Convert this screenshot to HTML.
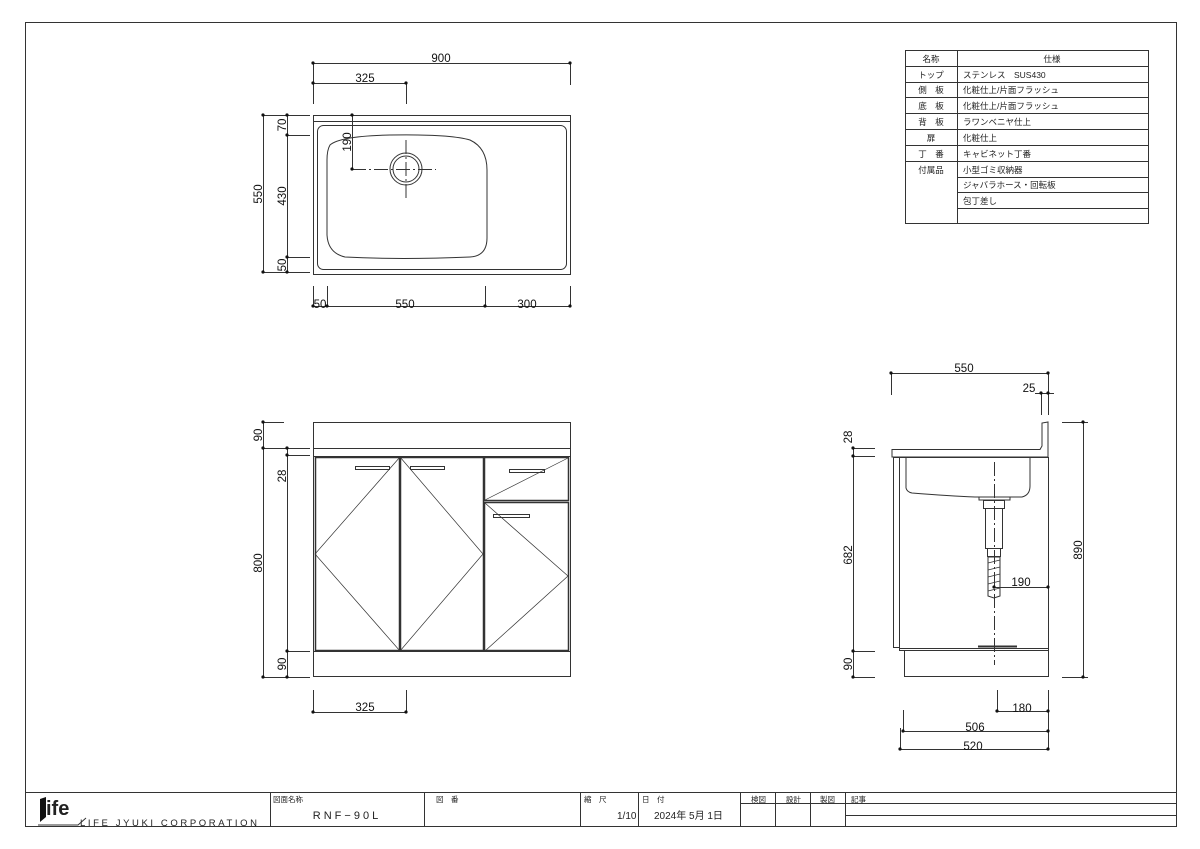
<!DOCTYPE html>
<html><head><meta charset="utf-8"><style>
body{margin:0;background:#fff;}
svg{display:block;font-family:"Liberation Sans","Noto Sans CJK JP",sans-serif;}
</style></head><body>
<svg width="1200" height="849" viewBox="0 0 1200 849" xmlns="http://www.w3.org/2000/svg">
<g fill="none" stroke="#333" stroke-width="1">
<rect x="25.5" y="22.5" width="1151" height="804"/>
<!-- TOP VIEW -->
<rect x="313.5" y="115.5" width="257" height="159"/>
<line x1="313" y1="121.5" x2="570" y2="121.5"/>
<rect x="317.5" y="125.5" width="249" height="144" rx="6"/>
<path d="M330,145 Q340,136 390,135 Q450,134 470,140 Q487,148 487,170 L487,238 Q487,256 470,257 Q400,260 345,257 Q328,253 327,235 L327,160 Q327,150 330,145 Z"/>
<circle cx="406" cy="169" r="16"/><circle cx="406" cy="169" r="13"/>
<line x1="406" y1="140" x2="406" y2="198" stroke-dasharray="14,3,2,3"/>
<line x1="352" y1="169.5" x2="436" y2="169.5" stroke-dasharray="14,3,2,3"/>
<line x1="313" y1="63.5" x2="570" y2="63.5"/><line x1="313.5" y1="63" x2="313.5" y2="104"/><line x1="570.5" y1="63" x2="570.5" y2="85"/>
<line x1="313" y1="83.5" x2="406" y2="83.5"/><line x1="406.5" y1="83" x2="406.5" y2="104"/>
<line x1="352.5" y1="115" x2="352.5" y2="169"/><line x1="352" y1="115.5" x2="374" y2="115.5"/>
<line x1="263.5" y1="115" x2="263.5" y2="272"/><line x1="263" y1="115.5" x2="310" y2="115.5"/><line x1="263" y1="272.5" x2="310" y2="272.5"/>
<line x1="287.5" y1="115" x2="287.5" y2="272"/><line x1="287" y1="135.5" x2="310" y2="135.5"/><line x1="287" y1="257.5" x2="310" y2="257.5"/>
<line x1="313" y1="306.5" x2="570" y2="306.5"/>
<line x1="313.5" y1="286" x2="313.5" y2="306"/><line x1="327.5" y1="286" x2="327.5" y2="306"/><line x1="485.5" y1="286" x2="485.5" y2="306"/><line x1="570.5" y1="286" x2="570.5" y2="306"/>
<!-- FRONT VIEW -->
<rect x="313.5" y="422.5" width="257" height="254"/>
<line x1="313" y1="448.5" x2="570" y2="448.5"/><line x1="313" y1="456.5" x2="570" y2="456.5"/>
<rect x="315.5" y="457.5" width="84" height="193" stroke-width="1.5"/>
<rect x="400.5" y="457.5" width="83" height="193" stroke-width="1.5"/>
<rect x="484.5" y="457.5" width="84" height="43" stroke-width="1.5"/>
<rect x="484.5" y="502.5" width="84" height="148" stroke-width="1.5"/>
<line x1="313" y1="651.5" x2="570" y2="651.5"/>
<g stroke-width="0.7"><path d="M400,457 L315,554 L400,651"/><path d="M400,457 L483,554 L400,651"/><path d="M568,458 L485,500"/><path d="M485,503 L568,576 L485,651"/></g>
<rect x="355.5" y="466.5" width="34" height="3"/><rect x="410.5" y="466.5" width="34" height="3"/><rect x="509.5" y="469.5" width="35" height="3"/><rect x="493.5" y="514.5" width="36" height="3"/>
<line x1="263.5" y1="422" x2="263.5" y2="677"/><line x1="263" y1="422.5" x2="284" y2="422.5"/><line x1="263" y1="448.5" x2="310" y2="448.5"/><line x1="263" y1="677.5" x2="310" y2="677.5"/>
<line x1="287.5" y1="448" x2="287.5" y2="677"/><line x1="287" y1="455.5" x2="310" y2="455.5"/><line x1="287" y1="651.5" x2="310" y2="651.5"/>
<line x1="313" y1="712.5" x2="406" y2="712.5"/><line x1="313.5" y1="690" x2="313.5" y2="712"/><line x1="406.5" y1="690" x2="406.5" y2="712"/>
<!-- SIDE VIEW -->
<line x1="891" y1="373.5" x2="1048" y2="373.5"/><line x1="891.5" y1="373" x2="891.5" y2="395"/><line x1="1048.5" y1="373" x2="1048.5" y2="415"/>
<line x1="1035" y1="393.5" x2="1054" y2="393.5"/><line x1="1041.5" y1="393" x2="1041.5" y2="415"/>
<path d="M892,449.5 L1040,449.5 L1042,446 L1042,423 L1048,422 L1048,457 L892,457 Z"/>
<rect x="893.5" y="457.5" width="6" height="190"/>
<rect x="899.5" y="457.5" width="149" height="193"/>
<line x1="899" y1="648.5" x2="1048" y2="648.5"/>
<rect x="904.5" y="650.5" width="144" height="26"/>
<path d="M906,457 L906,488 Q907,492 912,493 Q950,496 975,497 L1022,497 Q1030,495 1030,486 L1030,457"/>
<path d="M979,497 L1010,497 L1010,500 L979,500 Z"/><rect x="983.5" y="500.5" width="21" height="8"/><rect x="985.5" y="508.5" width="17" height="40"/><rect x="987.5" y="548.5" width="13" height="8"/>
<path d="M988,557 L1000,557 L1000,596 L994,598 L988,596 Z"/>
<g stroke-width="0.8"><path d="M988,563 L1000,560 M988,570 L1000,567 M988,577 L1000,574 M988,584 L1000,581 M988,591 L1000,588"/></g>
<line x1="994.5" y1="462" x2="994.5" y2="665" stroke-dasharray="14,3,2,3"/>
<line x1="978" y1="646.5" x2="1017" y2="646.5" stroke-width="2"/>
<line x1="994" y1="587.5" x2="1048" y2="587.5"/>
<line x1="1083.5" y1="422" x2="1083.5" y2="677"/><line x1="1062" y1="422.5" x2="1088" y2="422.5"/><line x1="1062" y1="677.5" x2="1088" y2="677.5"/>
<line x1="853.5" y1="448" x2="853.5" y2="677"/><line x1="853" y1="448.5" x2="875" y2="448.5"/><line x1="853" y1="456.5" x2="875" y2="456.5"/><line x1="853" y1="651.5" x2="875" y2="651.5"/><line x1="853" y1="677.5" x2="875" y2="677.5"/>
<line x1="997" y1="711.5" x2="1048" y2="711.5"/><line x1="997.5" y1="690" x2="997.5" y2="711"/>
<line x1="903" y1="731.5" x2="1048" y2="731.5"/><line x1="903.5" y1="710" x2="903.5" y2="731"/>
<line x1="900" y1="749.5" x2="1048" y2="749.5"/><line x1="900.5" y1="728" x2="900.5" y2="749"/>
<line x1="1048.5" y1="690" x2="1048.5" y2="749"/>
<!-- TABLE -->
<rect x="905.5" y="50.5" width="243" height="173"/>
<line x1="957.5" y1="50" x2="957.5" y2="223"/>
<path d="M905,66.5H1148M905,82.5H1148M905,97.5H1148M905,113.5H1148M905,129.5H1148M905,145.5H1148M905,161.5H1148M957,177.5H1148M957,192.5H1148M957,208.5H1148"/>
<!-- TITLE BLOCK -->
<line x1="25" y1="792.5" x2="1176" y2="792.5"/>
<path d="M270.5,792V826M424.5,792V826M580.5,792V826M638.5,792V826M740.5,792V826M775.5,792V826M810.5,792V826M845.5,792V826"/>
<line x1="740" y1="803.5" x2="1176" y2="803.5"/><line x1="845" y1="815.5" x2="1176" y2="815.5"/>
</g>
<g fill="#111">
<circle cx="313" cy="63" r="1.6"/><circle cx="570" cy="63" r="1.6"/><circle cx="313" cy="83" r="1.6"/><circle cx="406" cy="83" r="1.6"/>
<circle cx="352" cy="115" r="1.6"/><circle cx="352" cy="169" r="1.6"/>
<circle cx="263" cy="115" r="1.6"/><circle cx="263" cy="272" r="1.6"/><circle cx="287" cy="115" r="1.6"/><circle cx="287" cy="135" r="1.6"/><circle cx="287" cy="257" r="1.6"/><circle cx="287" cy="272" r="1.6"/>
<circle cx="313" cy="306" r="1.6"/><circle cx="327" cy="306" r="1.6"/><circle cx="485" cy="306" r="1.6"/><circle cx="570" cy="306" r="1.6"/>
<circle cx="263" cy="422" r="1.6"/><circle cx="263" cy="448" r="1.6"/><circle cx="263" cy="677" r="1.6"/><circle cx="287" cy="448" r="1.6"/><circle cx="287" cy="455" r="1.6"/><circle cx="287" cy="651" r="1.6"/><circle cx="287" cy="677" r="1.6"/>
<circle cx="313" cy="712" r="1.6"/><circle cx="406" cy="712" r="1.6"/>
<circle cx="891" cy="373" r="1.6"/><circle cx="1048" cy="373" r="1.6"/><circle cx="1041" cy="393" r="1.6"/><circle cx="1048" cy="393" r="1.6"/>
<circle cx="1083" cy="422" r="1.6"/><circle cx="1083" cy="677" r="1.6"/>
<circle cx="853" cy="448" r="1.6"/><circle cx="853" cy="456" r="1.6"/><circle cx="853" cy="651" r="1.6"/><circle cx="853" cy="677" r="1.6"/>
<circle cx="994" cy="587" r="1.6"/><circle cx="1048" cy="587" r="1.6"/>
<circle cx="997" cy="711" r="1.6"/><circle cx="1048" cy="711" r="1.6"/><circle cx="903" cy="731" r="1.6"/><circle cx="1048" cy="731" r="1.6"/><circle cx="900" cy="749" r="1.6"/><circle cx="1048" cy="749" r="1.6"/>
</g>
<g font-size="11.5" fill="#111" text-anchor="middle">
<text x="441" y="62">900</text><text x="365" y="82">325</text><text x="320" y="308">50</text><text x="405" y="308">550</text><text x="527" y="308">300</text>
<text x="365" y="711">325</text><text x="964" y="372">550</text><text x="1029" y="392">25</text><text x="1021" y="586">190</text>
<text x="1022" y="712">180</text><text x="975" y="731">506</text><text x="973" y="750">520</text>
<text transform="translate(262,194) rotate(-90)">550</text><text transform="translate(286,125) rotate(-90)">70</text><text transform="translate(286,196) rotate(-90)">430</text><text transform="translate(286,265) rotate(-90)">50</text>
<text transform="translate(351,142) rotate(-90)">190</text>
<text transform="translate(262,435) rotate(-90)">90</text><text transform="translate(262,563) rotate(-90)">800</text><text transform="translate(286,476) rotate(-90)">28</text><text transform="translate(286,664) rotate(-90)">90</text>
<text transform="translate(852,437) rotate(-90)">28</text><text transform="translate(852,555) rotate(-90)">682</text><text transform="translate(852,664) rotate(-90)">90</text>
<text transform="translate(1082,550) rotate(-90)">890</text>
</g>
<g font-size="8.5" fill="#222">
<text x="931" y="62" text-anchor="middle">名称</text><text x="1052" y="62" text-anchor="middle">仕様</text>
<text x="931" y="78" text-anchor="middle">トップ</text><text x="931" y="93" text-anchor="middle">側　板</text><text x="931" y="109" text-anchor="middle">底　板</text><text x="931" y="125" text-anchor="middle">背　板</text><text x="931" y="141" text-anchor="middle">扉</text><text x="931" y="157" text-anchor="middle">丁　番</text><text x="931" y="173" text-anchor="middle">付属品</text>
<text x="963" y="78">ステンレス　SUS430</text><text x="963" y="93">化粧仕上/片面フラッシュ</text><text x="963" y="109">化粧仕上/片面フラッシュ</text><text x="963" y="125">ラワンベニヤ仕上</text><text x="963" y="141">化粧仕上</text><text x="963" y="157">キャビネット丁番</text><text x="963" y="173">小型ゴミ収納器</text><text x="963" y="188">ジャバラホース・回転板</text><text x="963" y="204">包丁差し</text>
<text x="273" y="802" font-size="7.5">図面名称</text><text x="436" y="802" font-size="7.5">図　番</text><text x="584" y="802" font-size="7.5">縮　尺</text><text x="642" y="802" font-size="7.5">日　付</text>
<text x="751" y="802" font-size="7.5">検図</text><text x="786" y="802" font-size="7.5">設計</text><text x="820" y="802" font-size="7.5">製図</text><text x="851" y="802" font-size="7.5">記事</text>
<text x="347" y="819" font-size="11" text-anchor="middle" letter-spacing="3">RNF−90L</text>
<text x="617" y="819" font-size="10">1/10</text><text x="654" y="819" font-size="10">2024年 5月 1日</text>
<text x="80" y="826" font-size="9.5" textLength="177" lengthAdjust="spacing">LIFE JYUKI CORPORATION</text>
<text x="46" y="815" font-size="20" font-weight="bold">ife</text>
</g>
<path d="M40,799 L46,797 L46,817 L40,822 Z" fill="#111"/>
<path d="M38,825 L78,825 L86,818" fill="none" stroke="#333"/>
</svg>
</body></html>
